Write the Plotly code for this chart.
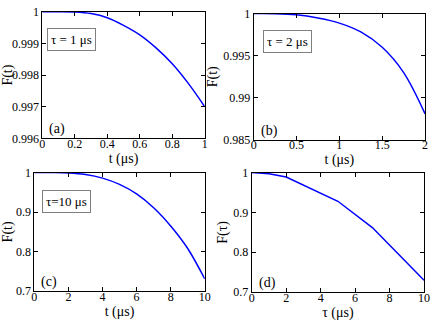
import plotly.graph_objects as go
from plotly.subplots import make_subplots

# (a) tau = 1 us
t_a = [0, 0.1, 0.2, 0.3, 0.4, 0.5, 0.6, 0.7, 0.8, 0.9, 1.0]
f_a = [1.0, 1.0, 0.99999, 0.99994, 0.99981, 0.99957, 0.99927, 0.99886, 0.99836, 0.99773, 0.9970]

# (b) tau = 2 us
t_b = [0, 0.25, 0.5, 0.75, 1.0, 1.25, 1.5, 1.75, 2.0]
f_b = [1.0, 0.99999, 0.99985, 0.99947, 0.99887, 0.99782, 0.99600, 0.99300, 0.98810]

# (c) tau = 10 us
t_c = [0, 1, 2, 3, 4, 5, 6, 7, 8, 9, 10]
f_c = [1.0, 1.0, 0.999, 0.995, 0.986, 0.970, 0.946, 0.911, 0.865, 0.808, 0.731]

# (d) F(tau) at t = tau
tau_d = [0, 1, 2, 3, 4, 5, 7, 10]
f_d = [1.0, 0.997, 0.989, 0.969, 0.948, 0.928, 0.862, 0.730]

panels = [
    # x, y, xrange, yrange, xticks, yticks, xtitle, ytitle, label, box
    (t_a, f_a, [0, 1], [0.996, 1], [0, 0.2, 0.4, 0.6, 0.8, 1], [0.996, 0.997, 0.998, 0.999, 1],
     't (μs)', 'F(t)', '(a)', 'τ = 1 μs'),
    (t_b, f_b, [0, 2], [0.985, 1], [0, 0.5, 1, 1.5, 2], [0.985, 0.99, 0.995, 1],
     't (μs)', 'F(t)', '(b)', 'τ = 2 μs'),
    (t_c, f_c, [0, 10], [0.7, 1], [0, 2, 4, 6, 8, 10], [0.7, 0.8, 0.9, 1],
     't (μs)', 'F(t)', '(c)', 'τ=10 μs'),
    (tau_d, f_d, [0, 10], [0.7, 1], [0, 2, 4, 6, 8, 10], [0.7, 0.8, 0.9, 1],
     'τ (μs)', 'F(τ)', '(d)', None),
]

# plot boxes in paper coords
x_domains = [[0.092, 0.4725], [0.587, 0.9885], [0.0734, 0.4725], [0.5826, 0.986]]
y_domains = [[0.58, 0.985], [0.575, 0.979], [0.092, 0.471], [0.089, 0.471]]
box_pos = [(0.18, 0.78), (0.2, 0.78), (0.19, 0.76)]
xtitle_standoff = [0, 2, 3, 3]

font = dict(family='Liberation Serif', size=12, color='black')

fig = make_subplots(rows=2, cols=2)

for i, (x, y, xr, yr, xt, yt, xtitle, ytitle, label, box) in enumerate(panels):
    row, col = i // 2 + 1, i % 2 + 1
    shape = 'linear' if i == 3 else 'spline'
    fig.add_trace(go.Scatter(x=x, y=y, mode='lines', line=dict(color='#0000ff', width=1.5, shape=shape),
                             showlegend=False), row=row, col=col)
    axis_opts = dict(showline=True, linecolor='black', linewidth=1, mirror='allticks',
                     ticks='inside', ticklen=4, tickcolor='black', showgrid=False, zeroline=False,
                     tickfont=font)
    fig.update_xaxes(range=xr, tickvals=xt, domain=x_domains[i], ticklabelstandoff=-6,
                     title=dict(text=xtitle, font=dict(family='Liberation Serif', size=14),
                                standoff=xtitle_standoff[i]),
                     row=row, col=col, **axis_opts)
    fig.update_yaxes(range=yr, tickvals=yt, domain=y_domains[i],
                     title=dict(text=ytitle, font=dict(family='Liberation Serif', size=14), standoff=2),
                     row=row, col=col, **axis_opts)
    suffix = '' if i == 0 else str(i + 1)
    fig.add_annotation(text=label, xref=f'x{suffix} domain', yref=f'y{suffix} domain',
                       x=0.03, y=0.075, xanchor='left', yanchor='middle', showarrow=False,
                       font=dict(family='Liberation Serif', size=14, color='black'))
    if box is not None:
        bx, by = box_pos[i]
        fig.add_annotation(text=box, xref=f'x{suffix} domain', yref=f'y{suffix} domain',
                           x=bx, y=by, xanchor='center', yanchor='middle', showarrow=False,
                           bordercolor='#808080', borderwidth=1, borderpad=3, bgcolor='white',
                           font=dict(family='Liberation Serif', size=13, color='black'))

fig.update_layout(width=436, height=327, margin=dict(l=0, r=0, t=0, b=0),
                  plot_bgcolor='white', paper_bgcolor='white', font=font)

# drop the page's default body margin so the figure sits at the window's corner
fig.write_html("out.html", config={'displayModeBar': False},
               post_script="document.body.style.margin='0';")
